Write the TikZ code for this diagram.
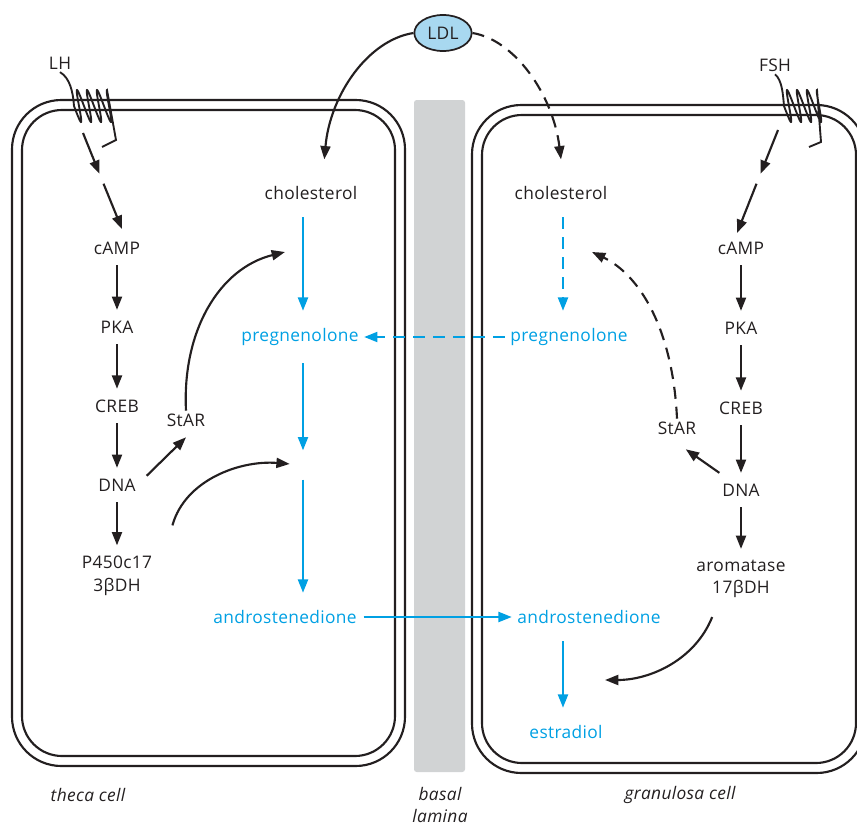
\documentclass[tikz,border=0pt]{standalone}
\usepackage{fontspec}
\setmainfont{Open Sans}[LetterSpace=2]
\usepackage{xcolor}
\usetikzlibrary{arrows.meta,positioning,shapes.geometric}
\definecolor{pathblue}{RGB}{0,160,227}
\definecolor{ink}{RGB}{35,31,32}
\definecolor{lamina}{RGB}{209,211,212}
\definecolor{ldlfill}{RGB}{168,216,240}

\begin{document}
\begin{tikzpicture}[
  x=0.75pt, y=-0.75pt,
  lbl/.style={text=ink, font=\fontsize{13}{17}\selectfont, inner sep=2pt, align=center},
  mol/.style={text=pathblue, font=\fontsize{13}{17}\selectfont, inner sep=2pt},
  cellname/.style={text=ink, font=\fontsize{13}{16.5}\selectfont\itshape, align=center},
  flow/.style={-{Triangle[length=10pt,width=7.5pt]}, line width=1.6pt, draw=ink},
  cascade/.style={flow, shorten <=6pt, shorten >=6pt},
  bflow/.style={-{Triangle[length=10pt,width=7.5pt]}, line width=1.6pt, draw=pathblue,
    shorten <=11pt, shorten >=11pt},
  memb/.style={line width=1.6pt, draw=ink}
]
\useasboundingbox (0,0) rectangle (857,828);
\clip (0,0) rectangle (857,828);

% cells and basal lamina
\fill[lamina, rounded corners=2pt] (414,100) rectangle (465,772);
\draw[memb, rounded corners=37pt] (12,100) rectangle (405,766);
\draw[memb, rounded corners=30pt] (22,110) rectangle (395,756);
\draw[memb, rounded corners=37pt] (472,105) rectangle (866,773);
\draw[memb, rounded corners=30pt] (482,115) rectangle (856,763);

% theca cell
\node[lbl] (lh) at (60,63) {LH};
\node[lbl] (tcamp) at (117,248) {cAMP};
\node[lbl] (tpka) at (117,327) {PKA};
\node[lbl] (tcreb) at (117,406) {CREB};
\node[lbl] (tdna) at (117,485) {DNA};
\node[lbl] (tenz) at (117,576) {P450c17\\3βDH};
\node[lbl] (tstar) at (186,420) {StAR};
\node[mol] (tchol) at (311,193) {\color{ink}cholesterol};
\node[mol] (tpreg) at (300,337) {pregnenolone};
\node[mol] (tandro) at (285,617) {androstenedione};
\coordinate (tx) at (303,465);

% granulosa cell
\node[lbl] (fsh) at (775,65) {FSH};
\node[lbl] (gcamp) at (741,248) {cAMP};
\node[lbl] (gpka) at (741,328) {PKA};
\node[lbl] (gcreb) at (741,408) {CREB};
\node[lbl] (gdna) at (741,490) {DNA};
\node[lbl] (genz) at (741,579) {aromatase\\17βDH};
\node[lbl] (gstar) at (677,428) {StAR};
\node[mol] (gchol) at (561,193) {\color{ink}cholesterol};
\node[mol] (gpreg) at (569,337) {pregnenolone};
\node[mol] (gandro) at (589,617) {androstenedione};
\node[mol] (gestr) at (566,732) {estradiol};
\coordinate (gx) at (563,465);

\node[draw=ink, line width=1.3pt, fill=ldlfill, ellipse, minimum width=43pt,
  minimum height=27pt, inner sep=0pt, lbl] (ldl) at (443,33) {LDL};

% receptors
\draw[line width=1.4pt, ink] (lh.south) .. controls (70,78) and (73,92) .. (74,106)
  -- plot[variable=\t, domain=0:1350, samples=200, smooth]
     ({74+\t/36+4.5*sin(\t)}, {106+16*sin(\t)})
  -- (116,140) -- (102,147);
\draw[line width=1.4pt, ink] (fsh.south) .. controls (782,80) and (783,94) .. (784,106)
  -- plot[variable=\t, domain=0:1350, samples=200, smooth]
     ({784+\t/36+4.5*sin(\t)}, {106+16*sin(\t)})
  -- (821,142) -- (809,147);

\coordinate (lhr) at (83,133);
\coordinate (lhm) at (102,180);
\coordinate (lhe) at (122,229);
\draw[flow, shorten >=5pt] (lhr) -- (lhm);
\draw[flow, shorten <=3pt] (lhm) -- (lhe);
\coordinate (fshr) at (778,130);
\coordinate (fshm) at (758,180);
\coordinate (fshe) at (737,233);
\draw[flow, shorten >=5pt] (fshr) -- (fshm);
\draw[flow, shorten <=3pt] (fshm) -- (fshe);

% theca signalling
\draw[cascade] (tcamp) -- (tpka);
\draw[cascade] (tpka) -- (tcreb);
\draw[cascade] (tcreb) -- (tdna);
\draw[cascade] (tdna) -- (tenz);
\draw[flow] ([xshift=6pt]tdna.north east) -- ([yshift=-6pt]tstar.south);
\draw[flow] (tstar.north) .. controls (182,330) and (220,268) .. (285,252);
\draw[flow, shorten >=10pt] ([shift={(13pt,21pt)}]tenz.north east)
  .. controls (185,480) and (240,460) .. (tx);

% granulosa signalling
\draw[cascade] (gcamp) -- (gpka);
\draw[cascade] (gpka) -- (gcreb);
\draw[cascade] (gcreb) -- (gdna);
\draw[cascade] (gdna) -- (genz);
\draw[flow] ([yshift=6pt]gdna.north west) -- ([shift={(-10pt,-9pt)}]gstar.south east);
\draw[flow, dash pattern=on 9pt off 6pt] (gstar.north)
  .. controls (673,330) and (640,275) .. (592,252);
\draw[flow] ([shift={(14pt,-12pt)}]genz.south west)
  .. controls (695,660) and (650,680) .. (605,680);

% LDL uptake
\draw[flow] (ldl.west) .. controls (368,40) and (330,95) .. ([shift={(10pt,18pt)}]tchol.north);
\draw[flow, dash pattern=on 9pt off 6pt] (ldl.east) .. controls (515,40) and (553,95)
  .. ([yshift=18pt]gchol.north);

% steroid pathway
\draw[bflow] (tchol.south -| tx) -- (tpreg.north -| tx);
\draw[bflow] (tpreg.south -| tx) -- (tx);
\draw[bflow] (tx) -- (tandro.north -| tx);
\draw[bflow, dash pattern=on 9pt off 6pt] (gchol.south -| gx) -- (gpreg.north -| gx);
\draw[bflow, dash pattern=on 9pt off 6pt, shorten <=2pt, shorten >=2pt] (gpreg.west) -- (tpreg.east);
\draw[bflow, shorten <=3pt, shorten >=2pt] (tandro.east) -- (gandro.west);
\draw[bflow] (gandro.south -| gx) -- (gestr.north -| gx);

% labels
\node[cellname] (theca) at (88,795) {theca cell};
\node[cellname] (granulosa) at (680,795) {granulosa cell};
\node[cellname] (basal) at (440,805) {basal\\lamina};
\end{tikzpicture}
\end{document}
